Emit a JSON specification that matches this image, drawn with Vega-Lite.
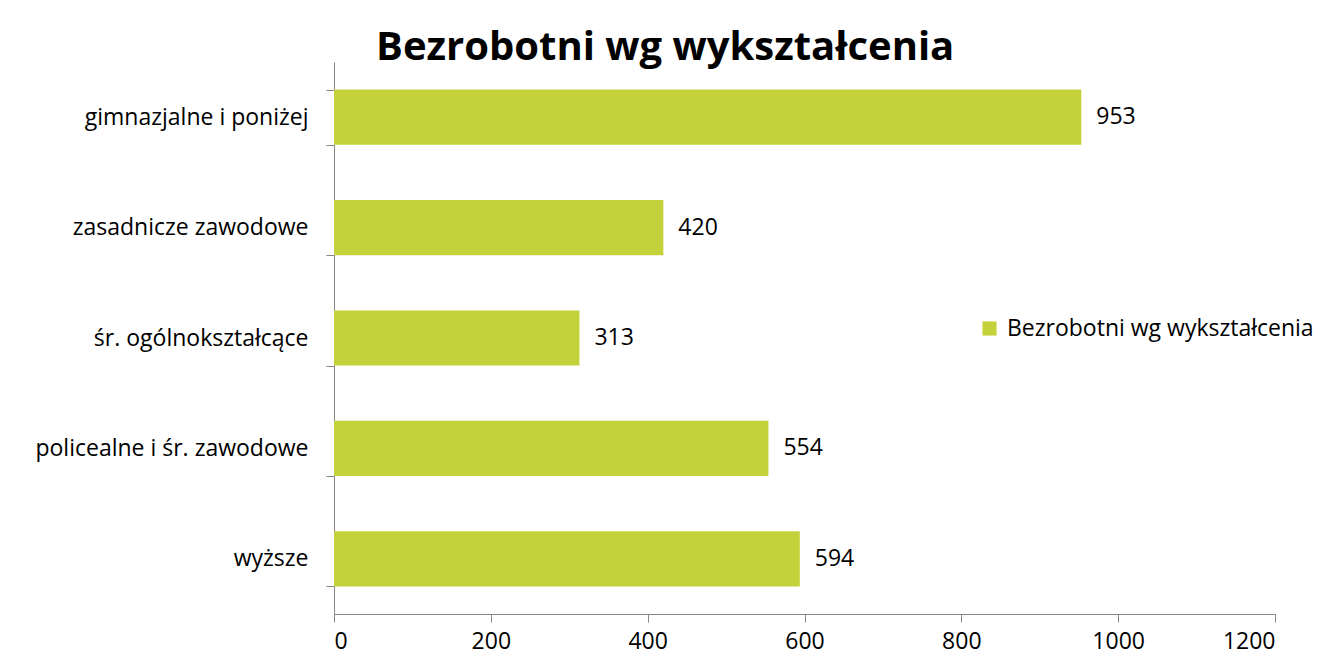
{
  "$schema": "https://vega.github.io/schema/vega-lite/v6.json",
  "autosize": {"type": "none"},
  "padding": {"left": 334, "top": 62, "right": 63, "bottom": 47},
  "width": 941,
  "height": 552,
  "background": "white",
  "config": {
    "view": {"stroke": null},
    "font": "Open Sans"
  },
  "title": {
    "text": "Bezrobotni wg wykształcenia",
    "anchor": "start",
    "frame": "group",
    "dx": 42,
    "dy": 19,
    "fontSize": 40,
    "fontWeight": "bold",
    "color": "#000000",
    "font": "Open Sans",
    "offset": 2
  },
  "data": {
    "values": [
      {"kategoria": "gimnazjalne i poniżej", "liczba": 953, "seria": "Bezrobotni wg wykształcenia"},
      {"kategoria": "zasadnicze zawodowe", "liczba": 420, "seria": "Bezrobotni wg wykształcenia"},
      {"kategoria": "śr. ogólnokształcące", "liczba": 313, "seria": "Bezrobotni wg wykształcenia"},
      {"kategoria": "policealne i śr. zawodowe", "liczba": 554, "seria": "Bezrobotni wg wykształcenia"},
      {"kategoria": "wyższe", "liczba": 594, "seria": "Bezrobotni wg wykształcenia"}
    ]
  },
  "encoding": {
    "y": {
      "field": "kategoria",
      "type": "nominal",
      "sort": null,
      "scale": {"paddingInner": 0.5, "paddingOuter": 0.25},
      "axis": {
        "title": null,
        "domainColor": "#868686",
        "tickColor": "#868686",
        "tickSize": 8,
        "tickBand": "extent",
        "labelFontSize": 23,
        "labelColor": "#000000",
        "labelPadding": 18,
        "labelLimit": 0,
        "labelFont": "Open Sans"
      }
    },
    "x": {
      "field": "liczba",
      "type": "quantitative",
      "scale": {"domain": [0, 1200], "nice": false},
      "axis": {
        "title": null,
        "values": [0, 200, 400, 600, 800, 1000, 1200],
        "format": "d",
        "grid": false,
        "domainColor": "#868686",
        "tickColor": "#868686",
        "tickSize": 8,
        "labelFontSize": 23,
        "labelColor": "#000000",
        "labelPadding": 8,
        "labelFont": "Open Sans"
      }
    }
  },
  "layer": [
    {
      "mark": {"type": "bar"},
      "encoding": {
        "color": {
          "field": "seria",
          "type": "nominal",
          "scale": {"range": ["#C4D13B"]},
          "legend": {
            "title": null,
            "orient": "none",
            "legendX": 644,
            "legendY": 255,
            "symbolType": "square",
            "symbolSize": 200,
            "symbolStrokeWidth": 0,
            "labelFontSize": 23,
            "labelColor": "#000000",
            "labelFont": "Open Sans",
            "labelLimit": 0,
            "labelOffset": 6
          }
        }
      }
    },
    {
      "mark": {"type": "text", "align": "left", "dx": 15, "fontSize": 23, "color": "#000000", "font": "Open Sans"},
      "encoding": {
        "text": {"field": "liczba", "type": "quantitative"}
      }
    }
  ]
}
